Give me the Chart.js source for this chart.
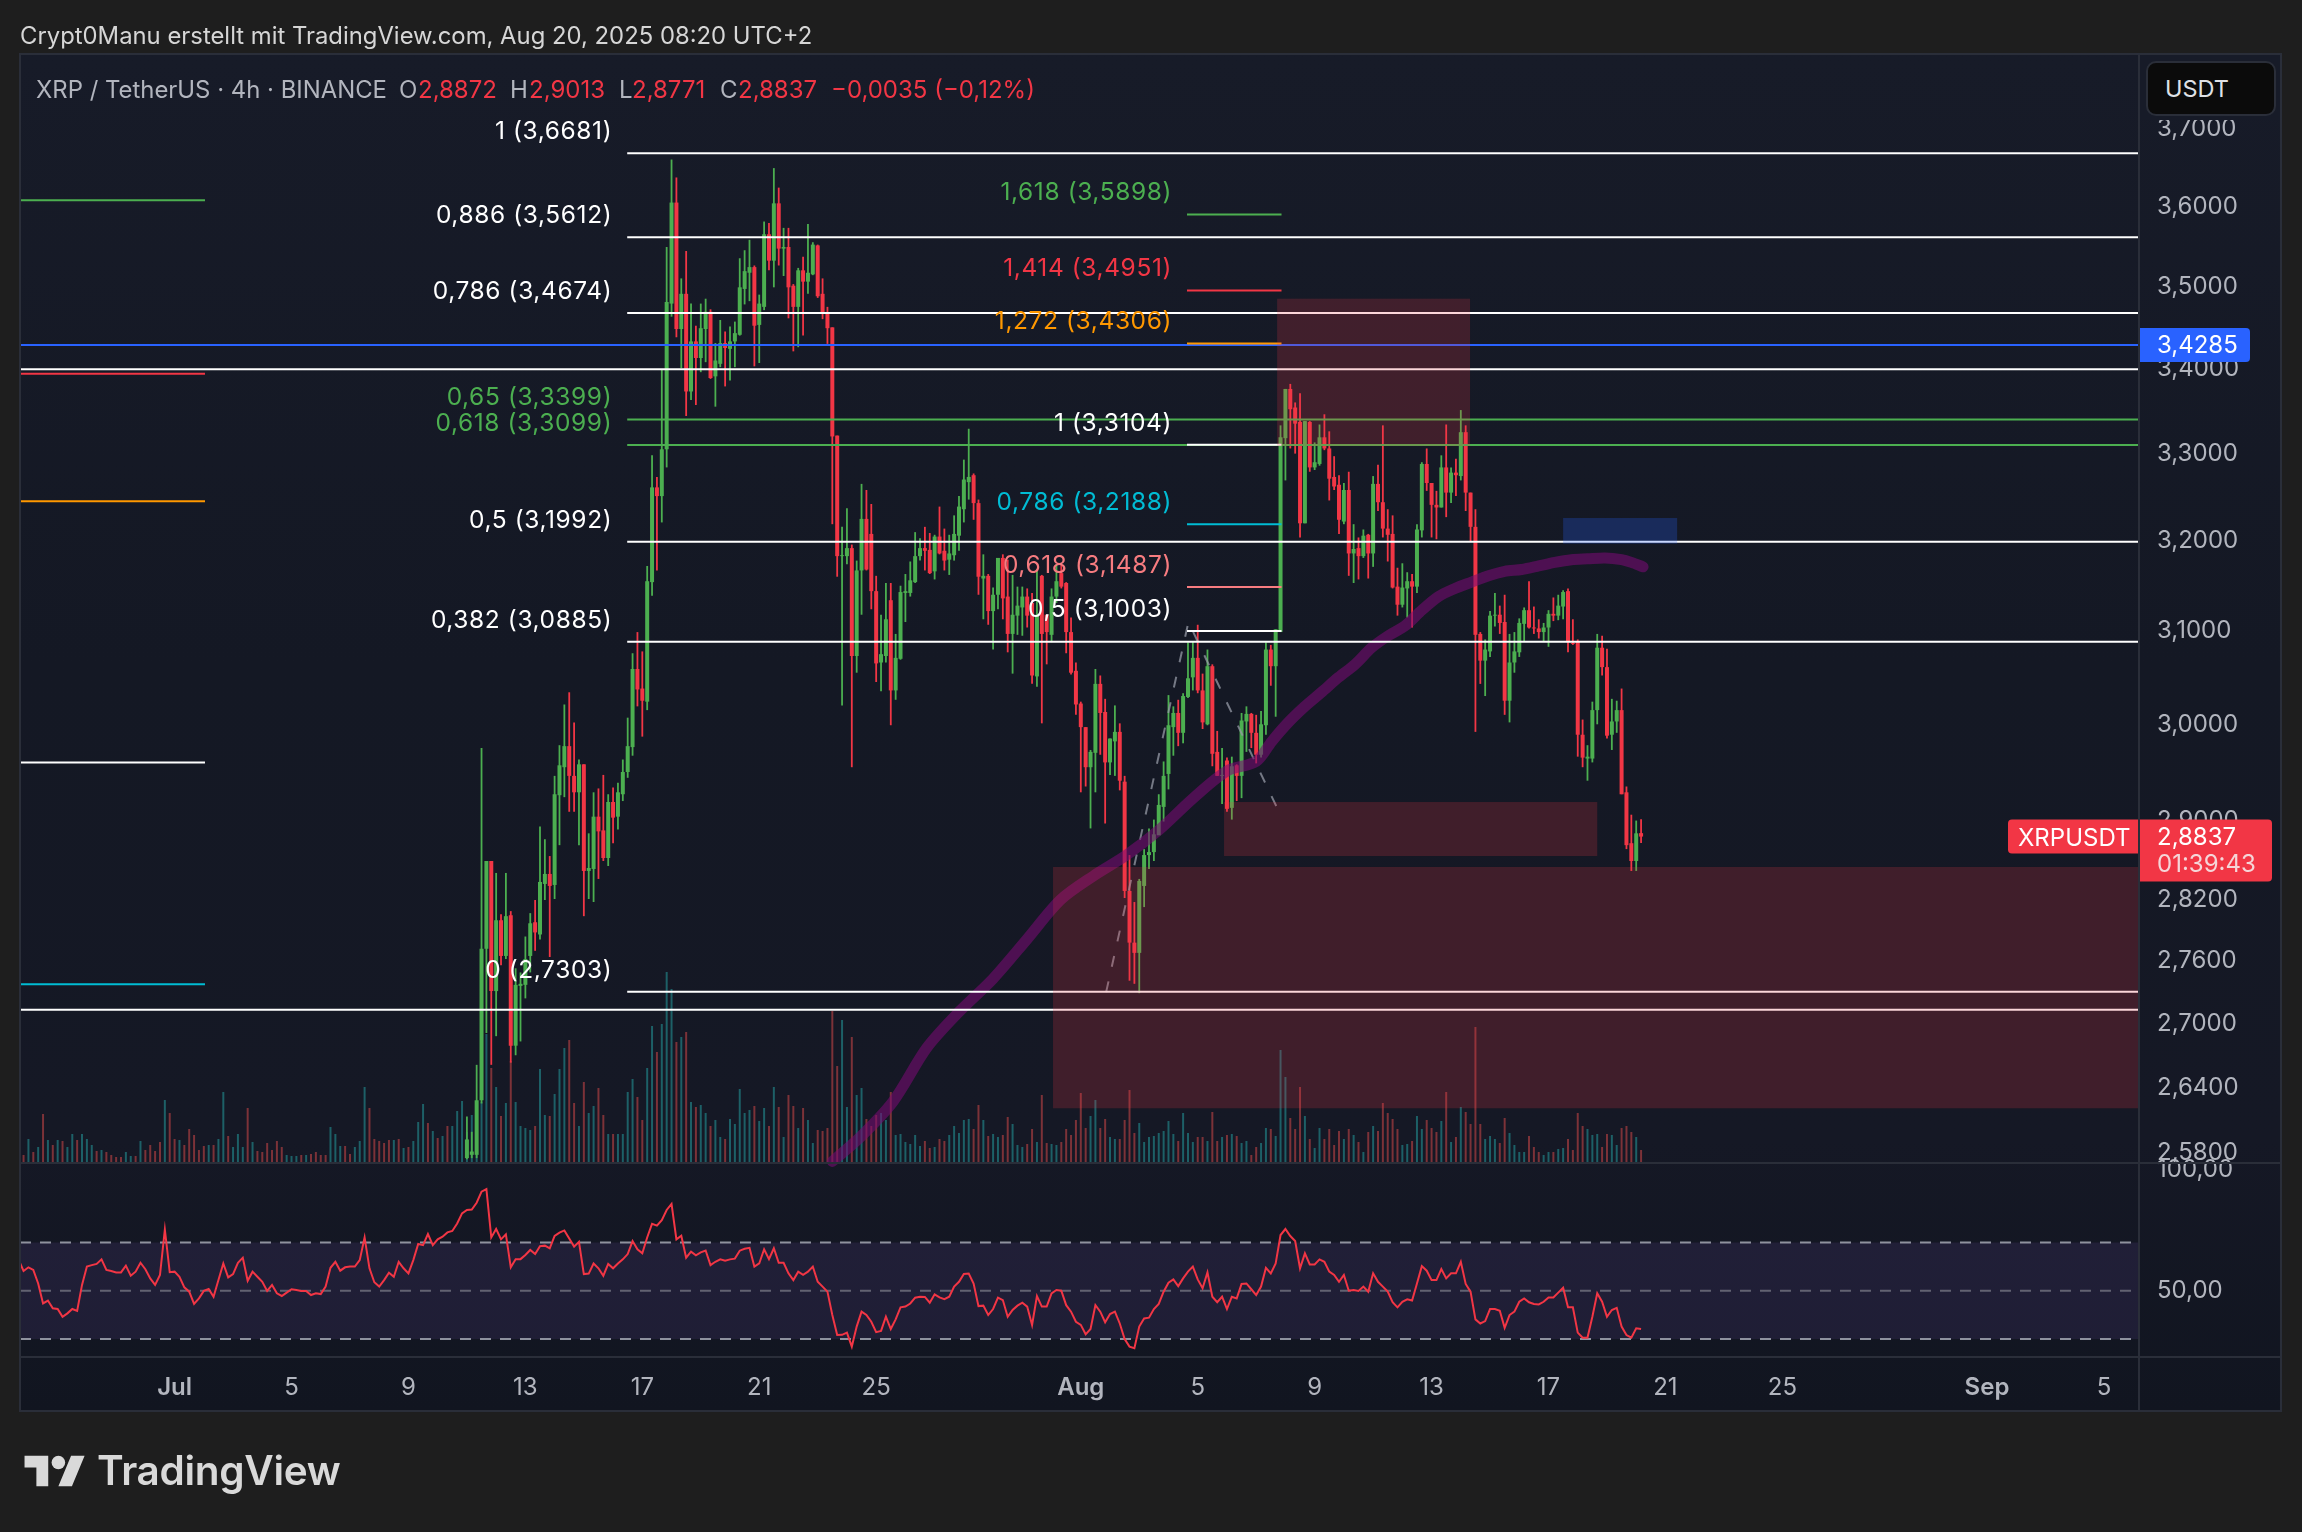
<!DOCTYPE html>
<html><head><meta charset="utf-8">
<script src="https://cdn.jsdelivr.net/npm/chart.js@4"></script>
<style>
html,body{margin:0;padding:0;background:#1e1e1e;width:2302px;height:1532px;overflow:hidden;font-family:Inter,"Noto Sans",sans-serif}
#panel{position:absolute;left:20px;top:54px;width:2261px;height:1357px;background:linear-gradient(#171b28 0%,#141824 45%,#151825 80%,#111520 100%)}
canvas{position:absolute;left:0;top:0}
.t{position:absolute;white-space:pre;line-height:1}
.f{position:absolute;background:#2a2e39}
</style></head><body>
<div id="panel"></div>
<canvas id="c" width="2302" height="1532"></canvas>
<div class="f" style="left:19px;top:53px;width:2263px;height:2px"></div>
<div class="f" style="left:19px;top:1410px;width:2263px;height:2px"></div>
<div class="f" style="left:19px;top:53px;width:2px;height:1359px"></div>
<div class="f" style="left:2280px;top:53px;width:2px;height:1359px"></div>
<div class="f" style="left:2138px;top:54px;width:2px;height:1357px"></div>
<div class="f" style="left:20px;top:1162px;width:2261px;height:2px"></div>
<div class="f" style="left:20px;top:1356px;width:2261px;height:2px"></div>
<div style="position:absolute;left:2140px;top:56px;width:140px;height:64px;background:#171b28"></div>
<div style="position:absolute;left:2146px;top:61px;width:126px;height:51px;background:#0b0b0b;border:2px solid #2a2e39;border-radius:10px"></div>
<div class="t" style="left:2165px;top:77px;font-size:23.5px;color:#dfe1e6">USDT</div>
<div class="t" style="left:20px;top:24px;font-size:23.85px;color:#d6d6d6">Crypt0Manu erstellt mit TradingView.com, Aug 20, 2025 08:20 UTC+2</div>
<div class="t" style="left:36px;top:78px;font-size:23.9px;color:#b2b5be">XRP / TetherUS · 4h · BINANCE</div>
<div class="t" style="left:399px;top:78px;font-size:24px;color:#b2b5be">O</div>
<div class="t" style="left:418px;top:78px;font-size:24px;color:#f23645">2,8872</div>
<div class="t" style="left:510px;top:78px;font-size:24px;color:#b2b5be">H</div>
<div class="t" style="left:529px;top:78px;font-size:24px;color:#f23645">2,9013</div>
<div class="t" style="left:619px;top:78px;font-size:24px;color:#b2b5be">L</div>
<div class="t" style="left:632px;top:78px;font-size:24px;color:#f23645">2,8771</div>
<div class="t" style="left:720px;top:78px;font-size:24px;color:#b2b5be">C</div>
<div class="t" style="left:738px;top:78px;font-size:24px;color:#f23645">2,8837</div>
<div class="t" style="left:831px;top:78px;font-size:24px;color:#f23645">−0,0035 (−0,12%)</div>
<svg style="position:absolute;left:24px;top:1449px" width="62" height="44" viewBox="0 0 36 26"><g fill="#d9d9d9"><path d="M14 22H7V11H0V4h14v18zM28 22h-8l7.5-18h8L28 22z"/><circle cx="20" cy="8" r="4"/></g></svg>
<div class="t" style="left:97px;top:1451px;font-size:40.5px;font-weight:600;letter-spacing:-0.3px;color:#d9d9d9">TradingView</div>
<script>
const firstCandleBar = 60;
const opens = [2.575,2.578,2.578,2.628,2.772,2.859,2.731,2.800,2.765,2.805,
2.679,2.736,2.737,2.765,2.798,2.786,2.836,2.846,2.835,2.926,
2.955,2.977,2.946,2.929,2.958,2.849,2.851,2.904,2.890,2.862,
2.919,2.904,2.927,2.950,2.976,3.059,3.038,3.024,3.154,3.261,
3.251,3.305,3.479,3.605,3.448,3.491,3.373,3.433,3.413,3.448,
3.469,3.391,3.406,3.431,3.424,3.433,3.441,3.497,3.517,3.524,
3.453,3.475,3.565,3.532,3.604,3.547,3.549,3.501,3.475,3.520,
3.506,3.515,3.551,3.491,3.467,3.450,3.321,3.183,3.183,3.192,
3.073,3.167,3.225,3.208,3.144,3.066,3.073,3.134,3.036,3.070,
3.142,3.142,3.154,3.183,3.192,3.190,3.166,3.205,3.189,3.179,
3.184,3.206,3.236,3.267,3.275,3.243,3.158,3.161,3.122,3.140,
3.181,3.138,3.097,3.117,3.126,3.138,3.131,3.051,3.161,3.118,
3.096,3.138,3.164,3.153,3.099,3.057,3.022,2.997,2.955,2.970,
3.043,3.013,2.960,2.982,2.992,2.940,2.829,2.778,2.768,2.834,
2.865,2.868,2.885,2.914,2.948,2.997,3.012,2.991,3.029,3.050,
3.071,3.036,3.000,3.062,2.971,2.946,2.962,2.913,2.957,2.946,
3.003,3.011,2.991,2.968,2.999,3.080,3.062,3.099,3.318,3.376,
3.354,3.337,3.220,3.337,3.284,3.288,3.319,3.306,3.273,3.264,
3.222,3.258,3.186,3.192,3.183,3.207,3.186,3.265,3.244,3.214,
3.208,3.149,3.129,3.147,3.155,3.149,3.212,3.288,3.266,3.241,
3.238,3.284,3.255,3.278,3.274,3.325,3.255,3.216,3.097,3.068,
3.078,3.117,3.118,3.110,3.025,3.066,3.077,3.108,3.123,3.104,
3.103,3.099,3.104,3.119,3.117,3.127,3.144,3.087,3.089,2.989,
2.964,2.964,3.015,3.082,3.061,2.989,3.003,3.015,2.929,2.877,
2.859,2.8872];
const highs = [2.613,2.599,2.661,2.975,2.859,2.859,2.847,2.806,2.847,2.809,
2.753,2.749,2.784,2.807,2.820,2.894,2.881,2.864,2.946,2.978,
3.021,3.034,3.002,2.963,2.958,2.887,2.929,2.933,2.947,2.927,
2.934,2.939,2.963,3.007,3.076,3.099,3.078,3.172,3.298,3.273,
3.399,3.549,3.660,3.637,3.510,3.544,3.479,3.452,3.479,3.485,
3.472,3.431,3.459,3.445,3.451,3.457,3.535,3.545,3.558,3.526,
3.490,3.581,3.579,3.649,3.624,3.573,3.573,3.503,3.523,3.537,
3.578,3.555,3.552,3.510,3.475,3.450,3.321,3.216,3.237,3.196,
3.178,3.265,3.258,3.242,3.161,3.118,3.153,3.153,3.097,3.150,
3.163,3.177,3.210,3.203,3.216,3.209,3.207,3.239,3.214,3.207,
3.229,3.251,3.293,3.329,3.277,3.247,3.185,3.163,3.148,3.181,
3.185,3.179,3.162,3.149,3.149,3.147,3.142,3.167,3.162,3.118,
3.147,3.174,3.174,3.154,3.115,3.066,3.024,2.997,2.973,3.059,
3.052,3.027,2.985,3.020,3.001,2.946,2.865,2.818,2.841,2.871,
2.892,2.901,2.927,2.961,3.031,3.019,3.026,3.033,3.088,3.089,
3.107,3.054,3.080,3.064,2.993,2.975,2.965,2.966,2.958,3.012,
3.019,3.012,3.010,3.014,3.088,3.085,3.102,3.333,3.376,3.382,
3.360,3.371,3.338,3.338,3.313,3.334,3.346,3.326,3.297,3.275,
3.266,3.279,3.219,3.204,3.213,3.208,3.274,3.287,3.333,3.236,
3.229,3.170,3.175,3.165,3.163,3.219,3.290,3.306,3.266,3.257,
3.298,3.334,3.284,3.294,3.351,3.333,3.255,3.236,3.099,3.091,
3.122,3.142,3.128,3.140,3.097,3.099,3.114,3.126,3.155,3.127,
3.113,3.109,3.123,3.137,3.140,3.145,3.147,3.113,3.091,3.005,
2.978,3.024,3.097,3.095,3.081,3.027,3.025,3.038,2.935,2.906,
2.900,2.9013];
const lows = [2.574,2.575,2.575,2.625,2.691,2.661,2.688,2.756,2.762,2.663,
2.670,2.683,2.724,2.749,2.770,2.781,2.820,2.764,2.821,2.875,
2.924,2.909,2.909,2.875,2.804,2.821,2.818,2.841,2.859,2.854,
2.877,2.891,2.920,2.944,2.967,3.019,2.987,3.015,3.139,3.167,
3.221,3.284,3.463,3.438,3.401,3.344,3.363,3.357,3.396,3.408,
3.388,3.355,3.402,3.379,3.386,3.402,3.440,3.478,3.482,3.403,
3.407,3.471,3.520,3.499,3.526,3.513,3.461,3.421,3.426,3.440,
3.491,3.514,3.486,3.460,3.430,3.219,3.160,3.020,3.174,2.955,
3.055,3.118,3.167,3.124,3.045,3.035,3.066,2.999,3.026,3.069,
3.110,3.138,3.153,3.178,3.167,3.163,3.157,3.185,3.167,3.162,
3.178,3.189,3.221,3.247,3.224,3.140,3.113,3.107,3.080,3.124,
3.113,3.077,3.054,3.096,3.095,3.104,3.043,3.040,3.001,3.064,
3.088,3.131,3.147,3.076,3.053,3.010,2.929,2.935,2.892,2.929,
2.968,2.897,2.947,2.946,2.931,2.822,2.741,2.738,2.729,2.813,
2.851,2.859,2.886,2.899,2.932,2.967,2.977,2.980,3.028,3.036,
3.033,2.995,2.999,2.956,2.946,2.917,2.909,2.901,2.920,2.923,
2.971,2.975,2.959,2.965,2.989,3.041,3.008,3.099,3.269,3.306,
3.300,3.204,3.220,3.279,3.281,3.286,3.304,3.246,3.258,3.208,
3.219,3.161,3.153,3.157,3.181,3.158,3.171,3.234,3.204,3.177,
3.147,3.117,3.126,3.115,3.104,3.142,3.204,3.257,3.204,3.202,
3.238,3.227,3.243,3.251,3.269,3.234,3.199,2.992,3.043,3.030,
3.072,3.105,3.097,3.010,3.002,3.055,3.072,3.089,3.103,3.097,
3.092,3.089,3.083,3.111,3.112,3.113,3.077,3.085,2.966,2.955,
2.941,2.960,3.000,3.052,2.985,2.973,2.991,2.927,2.871,2.849,
2.849,2.8771];
const closes = [2.592,2.581,2.628,2.772,2.859,2.731,2.800,2.765,2.804,2.679,
2.737,2.738,2.762,2.797,2.788,2.838,2.846,2.834,2.927,2.957,
2.977,2.946,2.929,2.958,2.849,2.852,2.904,2.889,2.862,2.919,
2.903,2.929,2.950,2.977,3.059,3.037,3.025,3.155,3.261,3.251,
3.305,3.481,3.605,3.448,3.491,3.373,3.433,3.413,3.449,3.469,
3.389,3.410,3.431,3.425,3.433,3.443,3.499,3.519,3.524,3.452,
3.479,3.565,3.532,3.604,3.547,3.549,3.499,3.475,3.520,3.506,
3.517,3.552,3.488,3.467,3.449,3.320,3.183,3.184,3.192,3.073,
3.167,3.225,3.168,3.144,3.065,3.075,3.113,3.036,3.071,3.143,
3.144,3.156,3.183,3.192,3.189,3.164,3.205,3.186,3.178,3.186,
3.208,3.239,3.270,3.273,3.243,3.160,3.161,3.122,3.140,3.181,
3.136,3.097,3.118,3.128,3.138,3.117,3.052,3.118,3.097,3.099,
3.138,3.155,3.149,3.099,3.055,3.021,2.997,2.955,2.971,3.043,
3.012,2.960,2.985,2.992,2.941,2.829,2.778,2.768,2.839,2.865,
2.868,2.886,2.916,2.946,2.999,3.012,2.991,3.030,3.049,3.071,
3.036,3.002,3.062,2.969,2.946,2.947,2.912,2.956,2.946,3.004,
3.011,2.991,2.968,3.000,3.080,3.062,3.102,3.319,3.376,3.352,
3.335,3.220,3.338,3.284,3.290,3.319,3.306,3.271,3.262,3.224,
3.258,3.186,3.191,3.183,3.206,3.186,3.265,3.244,3.214,3.207,
3.148,3.129,3.148,3.155,3.149,3.213,3.288,3.266,3.241,3.238,
3.284,3.255,3.278,3.275,3.325,3.255,3.216,3.096,3.068,3.080,
3.117,3.118,3.109,3.025,3.066,3.078,3.109,3.123,3.104,3.103,
3.099,3.104,3.119,3.117,3.128,3.143,3.088,3.086,2.989,2.965,
2.966,3.015,3.082,3.061,2.988,3.003,3.015,2.927,2.875,2.859,
2.887,2.8837];

const firstVolumeBar = -31;
const volumes = [7,23,10,15,48,22,17,22,21,15,
28,22,28,23,17,11,12,10,7,5,
5,10,6,6,21,12,17,11,20,62,
49,23,22,17,33,27,12,16,17,17,
23,70,26,15,28,15,54,20,11,10,
19,12,21,15,7,6,6,7,7,8,
10,7,7,35,28,16,16,8,15,21,
75,54,23,21,19,22,22,23,14,15,
21,40,58,39,31,24,26,36,36,51,61,
30,47,28,60,128,94,75,46,59,101,
60,36,34,32,36,93,47,46,68,93,
114,122,59,36,80,49,56,74,47,28,
28,28,28,70,83,65,42,94,136,110,
138,190,173,120,125,130,60,55,57,49,
36,42,25,23,43,38,73,49,52,56,
41,54,36,75,55,25,67,56,34,54,
42,19,32,31,34,151,96,142,55,125,
67,74,
43,36,47,49,42,70,27,28,20,18,
27,16,21,14,15,23,21,27,36,29,
42,43,33,57,42,26,28,25,27,45,
38,17,15,18,33,20,67,19,18,17,
20,33,27,42,69,34,46,62,34,43,
25,23,23,42,72,29,39,20,25,26,
29,31,41,28,21,49,29,20,25,25,
21,50,21,25,27,28,26,19,21,7,15,
19,34,33,26,112,85,44,33,75,46,
23,14,34,23,33,17,31,23,33,27,
20,10,30,36,31,59,49,43,33,17,
18,21,46,33,42,34,30,41,70,20,
25,55,50,38,135,38,23,26,23,19,
44,29,17,10,10,26,15,10,7,10,
10,13,14,23,12,49,36,33,27,28,
15,28,27,17,34,36,30,25,12];
const earlyVolumeUp = [0,1,0,1,0,1,0,1,0,1,
1,0,1,1,1,0,1,0,0,0,
0,1,1,0,1,0,0,0,0,1,
0,0,1,0,0,0,0,0,1,0,
1,1,0,1,1,1,0,1,0,0,
0,0,0,0,1,1,1,0,1,0,
0,0,0,1,1,1,0,0,1,1,
1,0,0,0,0,0,1,0,1,0,
1,1,1,0,1,0,1,0,1,1,1];

const firstRsiBar = -32;
const rsiValues = [62.7,58.2,59.7,58.6,53.0,44.7,45.9,42.7,42.4,39.2,40.6,42.4,41.6,52.4,60.0,60.6,61.1,63.0,58.6,58.2,
57.6,57.6,60.4,56.2,57.9,61.6,58.9,55.1,52.4,56.5,75.4,57.7,57.9,55.8,51.4,49.6,44.5,46.8,49.9,50.7,
47.5,54.4,61.3,55.5,56.9,61.6,63.7,54.1,57.9,55.8,53.7,49.9,52.4,48.9,47.8,49.2,50.6,50.3,49.9,49.9,
48.2,48.9,48.6,51.7,59.5,62.0,58.3,59.7,60.0,60.0,62.7,72.1,59.3,53.5,51.7,54.4,57.5,55.8,62.0,59.3,
57.2,62.7,69.4,68.9,73.5,68.9,71.3,72.4,74.2,74.8,77.9,82.1,83.5,83.7,86.5,91.1,92.2,72.1,75.6,71.3,
73.4,59.7,63.1,63.1,64.8,66.9,65.2,68.5,68.7,67.6,72.7,74.1,75.0,71.7,68.3,70.3,56.9,57.1,61.3,59.3,
56.2,61.1,59.3,61.3,63.0,65.2,70.6,67.2,65.5,72.1,77.8,77.0,79.3,83.5,86.0,71.3,72.8,63.7,66.2,64.7,
65.9,66.7,60.6,62.0,63.0,62.4,63.0,63.3,66.6,67.4,67.8,60.0,61.3,67.2,63.1,67.6,61.6,61.6,57.2,54.4,
57.9,56.6,57.9,60.0,53.7,51.7,49.6,39.9,31.6,31.7,32.6,26.8,35.1,41.3,39.9,37.1,32.8,33.3,39.2,34.1,
38.1,43.1,43.4,44.7,47.1,47.5,47.4,45.0,48.5,47.2,46.5,47.5,51.7,53.7,56.9,57.1,53.0,43.6,43.8,39.9,42.4,47.1,
46.1,39.2,42,43.8,45,43.4,35.8,47.8,43.4,43.4,48.9,50.3,50,44,41.3,37.1,35.8,31.9,34.1,44,41.3,36.9,40.3,41.3,36.4,29.9,26.8,26.1,35.1,38.5,
38.8,42.4,44.5,49.6,53.3,54.7,51.9,55.1,57.9,60,54.7,51,57.6,47.5,45.2,47.5,42.4,47.5,46.8,52.8,53,50.6,48.2,51.7,59.5,57.2,61.3,73.1,75.6,72.7,
70.6,59.3,65.5,60.9,60.9,63,62,57.9,56.5,53.7,56.5,50,50.3,49.9,51.7,49.6,57.2,53.7,51.7,49.6,45.2,43.1,45.4,46.4,45.9,53,60.2,58.3,54.4,54.4,
59,55.1,57.2,57.2,62,52.8,49.6,38.1,36.4,37.4,42.4,42.4,41.7,34.6,39.9,41.3,45.4,46.8,45.2,44.5,44.3,45.4,47.2,47.2,49.2,51.2,43.1,43.1,32.6,30.5,
30.5,39.2,48.9,45.4,39.2,42,42.9,35.1,31.6,30.5,34.4,34.1];

const maBars = [135,140.7,147.5,154.4,161.2,168,174.9,181.8,188.6,195.4,202.2,209.1,216,222,225.2,228.6,232,235.4,238.9,242.3,245.7,249.1,252.6,256,259.4,262.8,266.2,269.7,273,276.5,280,283.3,286.7,290,293.6,297,299,301.4];
const maPrices = [2.572,2.594,2.627,2.677,2.712,2.743,2.781,2.820,2.844,2.865,2.891,2.923,2.951,2.961,2.982,3.002,3.019,3.034,3.050,3.064,3.082,3.095,3.106,3.123,3.138,3.147,3.154,3.161,3.166,3.168,3.172,3.176,3.179,3.180,3.181,3.179,3.176,3.171];

const zigzagBars = [191.2,208.1,226.2];
const zigzagPrices = [2.730,3.110,2.914];

const fibALevels = ['1','0,886','0,786','0,65','0,618','0,5','0,382','0'];
const fibAPrices = [3.6681,3.5612,3.4674,3.3399,3.3099,3.1992,3.0885,2.7303];
const fibBLevels = ['1,618','1,414','1,272','1','0,786','0,618','0,5'];
const fibBPrices = [3.5898,3.4951,3.4306,3.3104,3.2188,3.1487,3.1003];
const fullLinePrices = [3.4285,3.3995,2.713];
const shortLinePrices = [3.608,3.394,3.245,2.960,2.7375];

const zoneStartBars = [180.3,215.4,226.3,285];
const zoneEndBars = [403.2,292,265.9,308.4];
const zoneTopPrices = [2.853,2.919,3.485,3.226];
const zoneBottomPrices = [2.6206,2.864,3.309,3.197];

const priceTicks = [3.7,3.6,3.5,3.4,3.3,3.2,3.1,3.0,2.9,2.82,2.76,2.7,2.64,2.58];
const rsiTicks = [100,50];
const rsiLevels = [70,50,30];
const dayTicks = [0,4,8,12,16,20,24,31,35,39,43,47,51,55,62,66];
const dayLabels = ['Jul','5','9','13','17','21','25','Aug','5','9','13','17','21','25','Sep','5'];
const lastPrice = 2.8837, bluePrice = 3.4285;

const FONT = 'Inter, "Noto Sans", sans-serif';
const GREEN='#4caf50', RED='#f23645', WHITE='#ffffff', ORANGE='#ff9800', CYAN='#00bcd4', SALMON='#f77c80', BLUE='#2962ff';
const fibAColors=[WHITE,WHITE,WHITE,GREEN,GREEN,WHITE,WHITE,WHITE];
const fibBColors=[GREEN,RED,ORANGE,WHITE,CYAN,SALMON,WHITE];
const fullColors=[BLUE,WHITE,WHITE];
const shortColors=[GREEN,RED,ORANGE,WHITE,CYAN];
const zoneColors=['rgba(242,54,69,.2)','rgba(242,54,69,.2)','rgba(242,54,69,.2)','rgba(41,98,255,.25)'];
const X_MIN=-31.73, X_MAX=403.2, FIB_A_START=92.9, FIB_B_START=207.8, FIB_B_END=227.2, SHORT_END=6.24;

const comma=(v,d)=>v.toFixed(d).replace('.',',');
const candleBars=opens.map((_,i)=>firstCandleBar+i);
const candleColors=opens.map((o,i)=>closes[i]>=o?GREEN:RED);
const volumeColors=volumes.map((_,i)=>{
  const up=i<earlyVolumeUp.length?earlyVolumeUp[i]:(closes[i-earlyVolumeUp.length]>=opens[i-earlyVolumeUp.length]);
  return up?'#1d6067':'#7c3238';
});
const hline=(x1,x2,y,color,width,axis,extra)=>Object.assign({type:'line',yAxisID:axis||'price',order:3,
  data:[{x:x1,y},{x:x2,y}],borderColor:color,borderWidth:width,pointRadius:0,tension:0},extra||{});

const datasets=[
 {type:'line',label:'RSI band',yAxisID:'rsi',order:12,data:[{x:X_MIN,y:rsiLevels[0]},{x:X_MAX,y:rsiLevels[0]}],borderWidth:0,pointRadius:0,
  fill:{target:{value:rsiLevels[2]}},backgroundColor:'rgba(126,87,194,.13)'},
 {type:'bar',label:'Volume',yAxisID:'vol',order:11,grouped:false,barThickness:2,inflateAmount:0,
  data:volumes.map((v,i)=>({x:firstVolumeBar+i,y:v})),backgroundColor:volumeColors},
 {type:'bar',label:'Wick',yAxisID:'price',order:10,grouped:false,barThickness:1.8,inflateAmount:0,
  data:candleBars.map((b,i)=>({x:b,y:[lows[i],highs[i]]})),backgroundColor:candleColors},
 {type:'bar',label:'Body',yAxisID:'price',order:9,grouped:false,barThickness:4,inflateAmount:0,
  data:candleBars.map((b,i)=>({x:b,y:[Math.min(opens[i],closes[i]),Math.max(opens[i],closes[i])]})),backgroundColor:candleColors},
 {type:'line',label:'Zigzag',yAxisID:'price',order:8,data:zigzagBars.map((b,i)=>({x:b,y:zigzagPrices[i]})),
  borderColor:'rgba(150,153,165,.75)',borderWidth:2,borderDash:[11,15],pointRadius:0,tension:0},
 {type:'line',label:'MA',yAxisID:'price',order:7,data:maBars.map((b,i)=>({x:b,y:maPrices[i]})),
  borderColor:'rgba(120,11,116,.58)',borderWidth:11,borderCapStyle:'round',borderJoinStyle:'round',pointRadius:0,tension:.3},
 {type:'line',label:'RSI',yAxisID:'rsi',order:2,data:rsiValues.map((v,i)=>({x:firstRsiBar+i,y:v})),
  borderColor:RED,borderWidth:2,pointRadius:0,tension:0}
];
rsiLevels.forEach((l,i)=>datasets.push(hline(X_MIN,X_MAX,l,i==1?'rgba(120,123,134,.75)':'rgba(150,153,165,.95)',2,'rsi',{borderDash:[11,9],order:4})));
fibAPrices.forEach((p,i)=>datasets.push(hline(FIB_A_START,X_MAX,p,fibAColors[i],2)));
fullLinePrices.forEach((p,i)=>datasets.push(hline(X_MIN,X_MAX,p,fullColors[i],2)));
shortLinePrices.forEach((p,i)=>datasets.push(hline(X_MIN,SHORT_END,p,shortColors[i],2)));
fibBPrices.forEach((p,i)=>datasets.push(hline(FIB_B_START,FIB_B_END,p,fibBColors[i],2,'price',{order:1})));

const overlays={id:'overlays',
 afterDatasetsDraw(chart){
  const {ctx,chartArea:a,scales:{x,price}}=chart;
  ctx.save();ctx.beginPath();ctx.rect(a.left,a.top,a.width,a.height);ctx.clip();
  zoneStartBars.forEach((s,i)=>{
   const x1=x.getPixelForValue(s),x2=x.getPixelForValue(zoneEndBars[i]);
   const y1=price.getPixelForValue(zoneTopPrices[i]),y2=price.getPixelForValue(zoneBottomPrices[i]);
   ctx.fillStyle=zoneColors[i];ctx.fillRect(x1,y1,x2-x1,y2-y1);
  });
  ctx.restore();
 },
 afterDraw(chart){
  const {ctx,scales:{x,price,rsi}}=chart;
  ctx.save();
  ctx.font='24.5px '+FONT;ctx.letterSpacing='0.6px';ctx.textAlign='right';ctx.textBaseline='middle';
  fibALevels.forEach((l,i)=>{ctx.fillStyle=fibAColors[i];
   ctx.fillText(l+' ('+comma(fibAPrices[i],4)+')',x.getPixelForValue(FIB_A_START)-15,price.getPixelForValue(fibAPrices[i])-21.5);});
  fibBLevels.forEach((l,i)=>{ctx.fillStyle=fibBColors[i];
   ctx.fillText(l+' ('+comma(fibBPrices[i],4)+')',x.getPixelForValue(FIB_B_START)-15,price.getPixelForValue(fibBPrices[i])-21.5);});
  ctx.letterSpacing='0px';
  const ax=x.right, by=price.getPixelForValue(bluePrice), ry=price.getPixelForValue(lastPrice);
  ctx.textAlign='left';ctx.font='24px '+FONT;
  ctx.fillStyle='#b2b5be';
  rsiTicks.forEach(v=>ctx.fillText(comma(v,2),ax+18,rsi.getPixelForValue(v)));
  ctx.fillStyle=BLUE;ctx.beginPath();ctx.roundRect(ax+1,by-17,110,34,[0,4,4,0]);ctx.fill();
  ctx.fillStyle='#fff';ctx.fillText(comma(bluePrice,4),ax+18,by+.5);
  ctx.fillStyle=RED;ctx.beginPath();ctx.roundRect(ax+1,ry-17,132,62,[0,4,4,0]);ctx.fill();
  ctx.beginPath();ctx.roundRect(ax-131,ry-17,131,34,[4,0,0,4]);ctx.fill();
  ctx.fillStyle='#fff';ctx.fillText(comma(lastPrice,4),ax+18,ry+1);
  ctx.fillText('XRPUSDT',ax-121,ry+2);
  ctx.fillStyle='#f5d5d8';ctx.fillText('01:39:43',ax+18,ry+28.5);
  ctx.restore();
 }};

new Chart(document.getElementById('c'),{
 type:'bar',
 data:{datasets},
 plugins:[overlays],
 options:{
  responsive:false,animation:false,devicePixelRatio:1,events:[],
  layout:{padding:{left:20,top:54,right:21,bottom:121}},
  plugins:{legend:{display:false},title:{display:false},tooltip:{enabled:false}},
  scales:{
   x:{type:'linear',position:'bottom',offset:false,min:X_MIN,max:X_MAX,grid:{display:false},border:{display:false},
     afterBuildTicks:s=>{s.ticks=dayTicks.map(d=>({value:d*6}));},
     afterFit:s=>{s.height=55;},
     ticks:{autoSkip:false,maxRotation:0,padding:9,color:'#b2b5be',
       font:c=>({family:FONT,size:24,weight:(c.tick&&['Jul','Aug','Sep'].includes(dayLabels[dayTicks.indexOf(c.tick.value/6)]))?'600':'400'}),
       callback:v=>dayLabels[dayTicks.indexOf(v/6)]}},
   rsi:{type:'linear',axis:'y',position:'right',display:false,min:22.9,max:563.2},
   price:{type:'logarithmic',position:'right',weight:1,bounds:'data',min:2.4017,max:3.7986,grid:{display:false,drawTicks:false},border:{display:false},
     afterBuildTicks:s=>{s.ticks=priceTicks.map(v=>({value:v}));},
     afterFit:s=>{s.width=142;},
     ticks:{autoSkip:false,padding:18,color:'#b2b5be',font:{family:FONT,size:24},callback:v=>comma(v,4)}},
   vol:{type:'linear',axis:'y',position:'right',display:false,min:-194,max:1108}
  }
 }
});
</script>
</body></html>
